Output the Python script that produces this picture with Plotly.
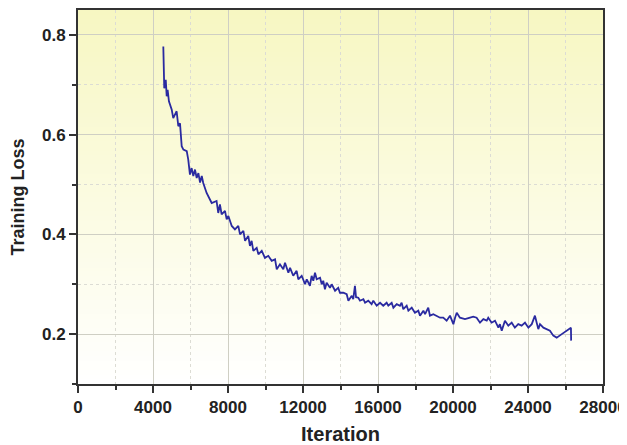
import plotly.graph_objects as go

# Data
iterations = [
    4550, 4580, 4600, 4680, 4730, 4780, 4850, 5000, 5080, 5260, 5350, 5440, 5490, 5530,
    5620, 5800, 5880, 5970, 6060, 6150, 6240, 6330, 6420, 6510, 6600, 6680, 6860, 7130,
    7390, 7480, 7570, 7660, 7840, 7930, 8020, 8200, 8370, 8550, 8640, 8820, 8910, 9080,
    9170, 9260, 9350, 9530, 9620, 9800, 9970, 10150, 10330, 10510, 10600, 10770, 10950,
    11040, 11220, 11310, 11480, 11660, 11750, 11930, 12110, 12200, 12370, 12460, 12550,
    12640, 12730, 12910, 13000, 13080, 13170, 13260, 13440, 13530, 13710, 13880, 13970,
    14150, 14330, 14420, 14600, 14680, 14770, 14830, 14950, 15040, 15220, 15310, 15480,
    15660, 15750, 15930, 16110, 16280, 16460, 16550, 16730, 16820, 17000, 17170, 17260,
    17350, 17530, 17620, 17800, 17970, 18150, 18240, 18420, 18510, 18680, 18770, 18950,
    19130, 19310, 19480, 19660, 19840, 20020, 20110, 20200, 20370, 20640, 20820, 21080,
    21260, 21440, 21620, 21800, 21880, 22060, 22240, 22420, 22500, 22600, 22770, 22950,
    23130, 23300, 23480, 23660, 23840, 24020, 24200, 24370, 24550, 24640, 24820, 25000,
    25170, 25350, 25530, 25800, 26060, 26290, 26300,
]
training_loss = [
    0.777, 0.723, 0.693, 0.710, 0.677, 0.690, 0.667, 0.650, 0.633, 0.647, 0.617, 0.623, 0.590, 0.577,
    0.570, 0.567, 0.550, 0.520, 0.533, 0.517, 0.530, 0.513, 0.523, 0.504, 0.517, 0.503, 0.483, 0.463,
    0.467, 0.443, 0.460, 0.440, 0.447, 0.430, 0.437, 0.417, 0.410, 0.417, 0.400, 0.407, 0.387, 0.397,
    0.377, 0.387, 0.367, 0.373, 0.360, 0.367, 0.353, 0.357, 0.347, 0.350, 0.330, 0.340, 0.330,
    0.343, 0.323, 0.333, 0.317, 0.327, 0.310, 0.317, 0.300, 0.310, 0.297, 0.317, 0.307,
    0.323, 0.310, 0.313, 0.300, 0.307, 0.290, 0.303, 0.293, 0.300, 0.287, 0.293, 0.283,
    0.283, 0.280, 0.267, 0.277, 0.270, 0.297, 0.274, 0.273, 0.267, 0.270, 0.263, 0.267,
    0.260, 0.267, 0.257, 0.263, 0.257, 0.263, 0.257, 0.263, 0.253, 0.260, 0.257, 0.263,
    0.250, 0.257, 0.247, 0.253, 0.243, 0.247, 0.237, 0.247, 0.240, 0.253, 0.237, 0.240,
    0.237, 0.233, 0.233, 0.227, 0.237, 0.220, 0.233, 0.243, 0.233, 0.230, 0.232, 0.235,
    0.233, 0.223, 0.230, 0.227, 0.233, 0.223, 0.227, 0.213, 0.220, 0.207, 0.227, 0.217,
    0.223, 0.213, 0.220, 0.217, 0.223, 0.213, 0.220, 0.237, 0.210, 0.220, 0.213, 0.210,
    0.207, 0.197, 0.193, 0.200, 0.207, 0.213, 0.187,
]

x_tickvals = [0, 4000, 8000, 12000, 16000, 20000, 24000, 28000]
y_tickvals = [0.2, 0.4, 0.6, 0.8]
x_title = "Iteration"
y_title = "Training Loss"

fig = go.Figure()
fig.add_trace(go.Scatter(
    x=iterations, y=training_loss, mode="lines",
    line=dict(color="#2a2aa0", width=1.8),
    showlegend=False,
))

# Yellow-to-white vertical gradient background
n = 80
top = (247, 247, 194)
shapes = []
for i in range(n):
    t = (i + 0.5) / n  # 0 at bottom, 1 at top
    c = tuple(round(255 + (top[k] - 255) * t) for k in range(3))
    shapes.append(dict(
        type="rect", xref="x domain", yref="y domain",
        x0=0, x1=1, y0=i / n, y1=(i + 1) / n + 0.002,
        fillcolor="rgb(%d,%d,%d)" % c, line=dict(width=0), layer="below",
    ))

tick_font = dict(family="Liberation Sans, Arial", size=17, weight="bold", color="#222")
xtitle_font = dict(family="Liberation Sans, Arial", size=20, weight="bold", color="#222")
ytitle_font = dict(family="Liberation Sans, Arial", size=18, weight="bold", color="#222")

# The page adds an 8px body margin, so the figure is sized to fit inside it.
fig.update_layout(
    width=619, height=437,
    margin=dict(l=70, r=16, t=2, b=53),
    paper_bgcolor="white", plot_bgcolor="white",
    shapes=shapes,
    xaxis=dict(
        domain=[0, 525 / 533],
        range=[0, 28000], tickvals=x_tickvals, ticktext=[str(v) for v in x_tickvals],
        ticks="outside", ticklen=7, tickwidth=1.5, tickcolor="#333",
        showline=True, linecolor="#333", linewidth=2, mirror=True,
        showgrid=True, gridcolor="#cfcfc4", gridwidth=1, zeroline=False,
        tickfont=tick_font, automargin=False, ticklabeloverflow="allow",
        title=dict(text=x_title, font=xtitle_font),
        minor=dict(tick0=0, dtick=2000, ticks="outside", ticklen=4, tickcolor="#333",
                   showgrid=True, gridcolor="#dcdcd4", griddash="dot", gridwidth=1),
    ),
    yaxis=dict(
        domain=[8 / 382, 1],
        range=[0.1, 0.85], tickvals=y_tickvals, ticktext=["0.2", "0.4", "0.6", "0.8"],
        ticks="outside", ticklen=7, tickwidth=1.5, tickcolor="#333",
        showline=True, linecolor="#333", linewidth=2, mirror=True,
        showgrid=True, gridcolor="#cfcfc4", gridwidth=1, zeroline=False,
        tickfont=tick_font, automargin=False,
        title=dict(text=y_title, font=ytitle_font),
        minor=dict(tick0=0, dtick=0.1, ticks="outside", ticklen=4, tickcolor="#333",
                   showgrid=True, gridcolor="#dcdcd4", griddash="dot", gridwidth=1),
    ),
)

fig.write_html("out.html")
